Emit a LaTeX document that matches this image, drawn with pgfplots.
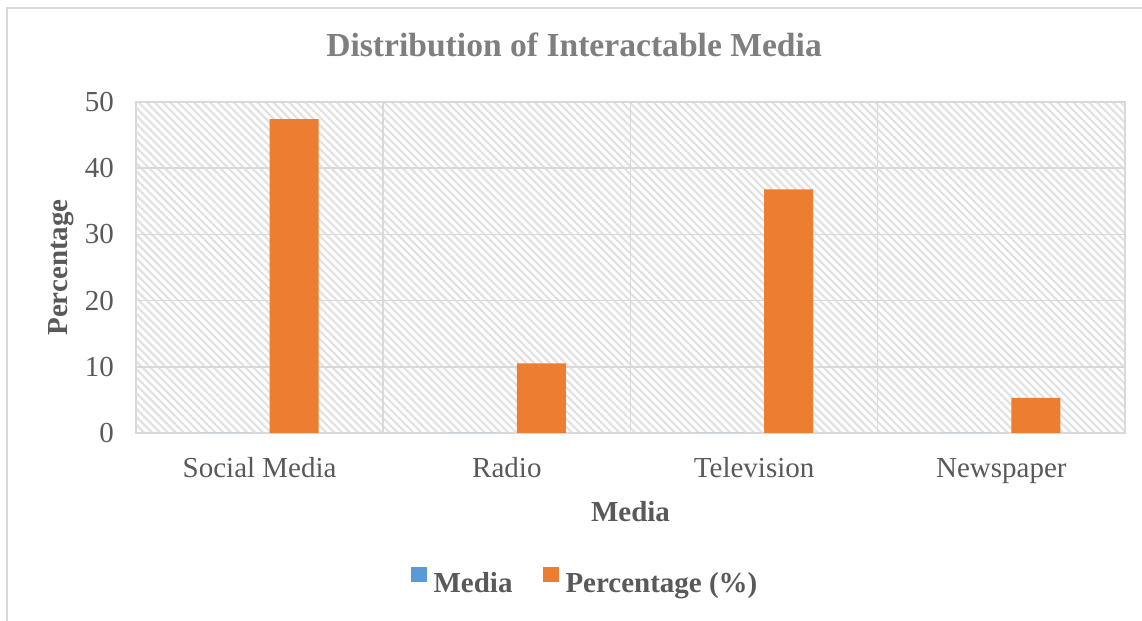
\documentclass[border=0pt]{standalone}
\usepackage{pgfplots}
\pgfplotsset{compat=1.18}
\usetikzlibrary{patterns.meta}
\usepackage{fontspec}
\setmainfont{Liberation Serif}

\definecolor{txtgray}{HTML}{595959}
\definecolor{titlegray}{HTML}{7F7F7F}
\definecolor{gridgray}{HTML}{D9D9D9}
\definecolor{mediablue}{HTML}{5B9BD5}
\definecolor{pctorange}{HTML}{ED7D31}

\begin{document}
\begin{tikzpicture}
\useasboundingbox (0,0) rectangle (571pt,310.5pt);
% chart frame (only top and left edges are visible)
\draw[gridgray, line width=1pt] (3.5pt,0) -- (3.5pt,306.5pt) -- (571pt,306.5pt);

\begin{axis}[
  at={(68pt,94pt)}, anchor=south west,
  scale only axis,
  width=494.5pt, height=165.5pt,
  ybar,
  bar width=24.5pt,
  xmin=-0.5, xmax=3.5,
  ymin=0, ymax=50,
  xtick={0,1,2,3},
  xticklabels={Social Media,Radio,Television,Newspaper},
  minor xtick={0.5,1.5,2.5},
  ytick={0,10,20,30,40,50},
  major tick length=0pt, minor tick length=0pt,
  ymajorgrids, xminorgrids,
  grid style={gridgray, line width=0.75pt},
  axis line style={gridgray, line width=0.75pt},
  axis background/.style={pattern={Lines[angle=-45,distance=2.8pt,line width=1.1pt]}, pattern color=gridgray!80},
  /pgf/number format/assume math mode=true,
  tick label style={font=\fontsize{14.5}{17}\selectfont, text=txtgray},
  yticklabel style={anchor=east, xshift=-7.5pt},
  xticklabel style={anchor=base, yshift=-22.5pt},
  title={Distribution of Interactable Media},
  title style={at={(axis description cs:0.4429,1.100)}, anchor=base,
    font=\fontsize{16.8}{20}\selectfont\bfseries, text=titlegray},
  xlabel={Media},
  xlabel style={at={(axis description cs:0.5,-0.266)}, anchor=base,
    font=\fontsize{14.5}{17}\selectfont\bfseries, text=txtgray},
  ylabel={Percentage},
  ylabel style={at={(axis description cs:-0.0760,0.5)}, anchor=center, rotate=0,
    font=\fontsize{14.5}{17}\selectfont\bfseries, text=txtgray},
  legend style={at={(axis description cs:0.455,-0.453)}, anchor=center,
    draw=none, fill=none, legend columns=2,
    font=\fontsize{14.5}{17}\selectfont\bfseries, text=txtgray,
    /tikz/every even column/.append style={column sep=13pt}},
  legend image code/.code={\fill[#1] (0pt,1pt) rectangle (8pt,8.5pt);},
]
\addplot[fill=mediablue, draw=none, bar shift=-17.25pt] coordinates {(0,0) (1,0) (2,0) (3,0)};
\addplot[fill=pctorange, draw=none, bar shift=17.25pt] coordinates {(0,47.4) (1,10.5) (2,36.8) (3,5.3)};
\legend{\hspace{1.5pt}Media,\hspace{1.5pt}Percentage (\%)}
\end{axis}
\end{tikzpicture}
\end{document}
